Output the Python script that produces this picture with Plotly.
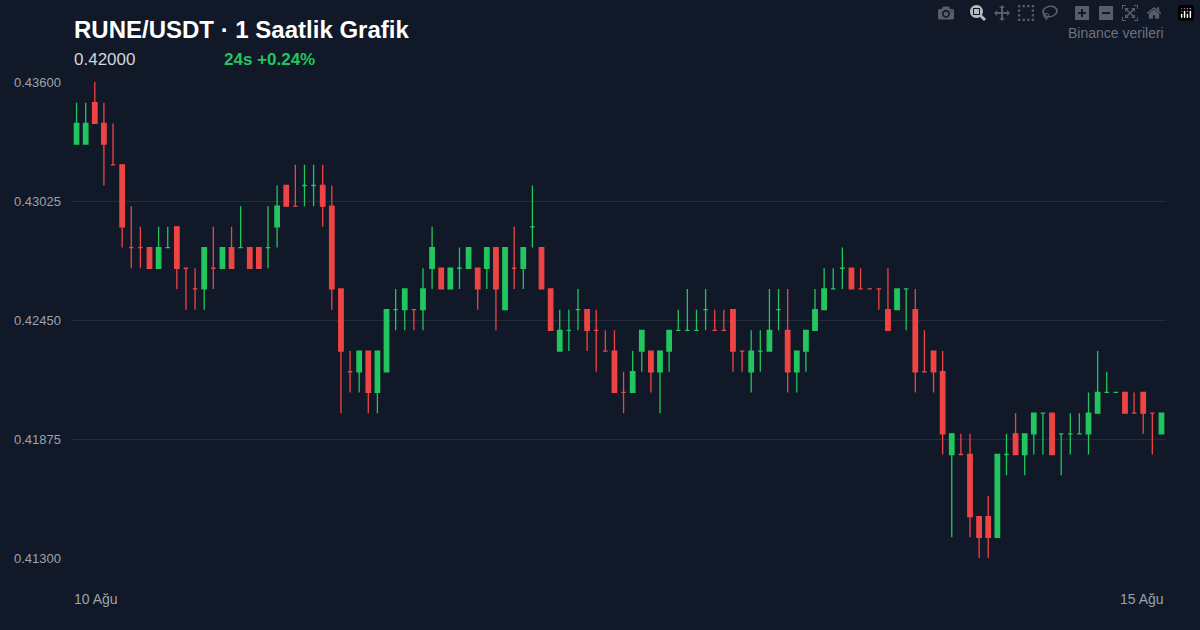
import plotly.graph_objects as go

# OHLC in units of 0.001 above 0.413
opens = [20, 20, 22, 21, 19, 19, 15, 15, 15, 14, 15, 16, 14, 13, 13, 14, 14, 15, 15, 15,
         15, 15, 16, 18, 17, 18, 18, 18, 17, 13, 9, 9, 10, 8, 9, 12, 12, 12, 12, 14,
         14, 13, 14, 14, 14, 14, 15, 12, 14, 14, 16, 15, 13, 10, 11, 12, 12, 11, 10, 10,
         8, 8, 10, 10, 9, 10, 11, 11, 11, 12, 11, 11, 12, 10, 9, 10, 10, 12, 11, 9,
         10, 11, 12, 13, 14, 14, 13, 13, 13, 12, 12, 13, 12, 9, 10, 9, 5, 5, 5, 2,
         2, 1, 5, 6, 5, 6, 7, 7, 6, 6, 6, 6, 7, 8, 8, 8, 7, 8, 7, 6]
closes = [21, 21, 21, 20, 19, 16, 15, 15, 14, 15, 15, 14, 14, 13, 15, 14, 15, 14, 15, 14,
          14, 15, 17, 17, 17, 18, 18, 17, 13, 10, 9, 10, 8, 10, 12, 12, 13, 12, 13, 15,
          13, 14, 14, 15, 13, 15, 13, 15, 14, 15, 16, 13, 11, 11, 11, 12, 11, 11, 10, 8,
          8, 9, 11, 9, 10, 11, 11, 11, 11, 12, 11, 11, 10, 10, 10, 10, 11, 12, 9, 10,
          11, 12, 13, 13, 14, 13, 13, 13, 13, 11, 13, 13, 9, 9, 9, 6, 6, 5, 2, 1,
          1, 5, 5, 5, 6, 7, 7, 5, 6, 6, 6, 7, 8, 8, 8, 7, 7, 7, 7, 7]
highs = [22, 22, 23, 22, 21, 19, 17, 16, 15, 16, 16, 16, 14, 14, 15, 16, 15, 16, 17, 15,
         15, 17, 18, 18, 19, 19, 19, 19, 18, 13, 10, 10, 10, 10, 12, 13, 13, 12, 14, 16,
         14, 14, 15, 15, 14, 15, 15, 15, 16, 15, 18, 15, 13, 12, 12, 13, 12, 12, 11, 11,
         9, 10, 11, 10, 10, 11, 12, 13, 12, 13, 12, 12, 12, 10, 11, 11, 13, 13, 13, 10,
         11, 13, 14, 14, 15, 14, 14, 13, 13, 14, 13, 13, 13, 11, 10, 10, 6, 6, 6, 2,
         3, 5, 6, 7, 6, 7, 7, 7, 6, 7, 7, 8, 10, 9, 8, 8, 8, 8, 7, 7]
lows = [20, 20, 21, 18, 19, 15, 14, 14, 14, 14, 15, 13, 12, 12, 12, 13, 14, 14, 15, 14,
        14, 14, 15, 17, 17, 17, 17, 16, 12, 7, 8, 8, 7, 7, 9, 11, 11, 11, 11, 13,
        13, 13, 13, 14, 12, 13, 11, 12, 13, 13, 15, 13, 11, 10, 10, 11, 10, 9, 10, 8,
        7, 8, 9, 8, 7, 9, 11, 11, 11, 11, 11, 11, 9, 9, 8, 9, 10, 11, 8, 8,
        9, 11, 12, 13, 13, 13, 13, 13, 12, 11, 12, 11, 8, 9, 8, 5, 1, 5, 1, 0,
        0, 1, 4, 5, 4, 5, 5, 5, 4, 5, 6, 5, 7, 8, 8, 7, 7, 6, 5, 6]

base = 0.413
step = 0.001
o = [base + v * step for v in opens]
h = [base + v * step for v in highs]
l = [base + v * step for v in lows]
c = [base + v * step for v in closes]
x = list(range(len(o)))

y_ticks = [0.413, 0.41875, 0.4245, 0.43025, 0.436]

BG = '#111827'
GREEN = '#22c55e'
RED = '#ef4444'

fig = go.Figure(go.Candlestick(
    x=x, open=o, high=h, low=l, close=c,
    increasing=dict(line=dict(color=GREEN, width=1.3), fillcolor=GREEN),
    decreasing=dict(line=dict(color=RED, width=1.3), fillcolor=RED),
    whiskerwidth=0,
    showlegend=False,
))

fig.update_layout(
    width=1200, height=630,
    paper_bgcolor=BG, plot_bgcolor=BG,
    margin=dict(l=72, r=34, t=82, b=72),
    font=dict(family='Liberation Sans, Arial, sans-serif', color='#9ca3af', size=13),
    xaxis=dict(range=[-0.5, len(x) - 0.5], showgrid=False, showticklabels=False,
               zeroline=False, rangeslider=dict(visible=False), fixedrange=True),
    yaxis=dict(range=[0.413, 0.436], tickvals=y_ticks, tickformat='.5f',
               gridcolor='#222c3b', gridwidth=1, zeroline=False,
               tickfont=dict(size=13, color='#9ca3af'), ticklabelstandoff=10),
    annotations=[
        dict(text='<b>RUNE/USDT · 1 Saatlik Grafik</b>', x=72, y=30,
             showarrow=False, xanchor='left', yanchor='middle',
             font=dict(size=24, color='#ffffff')),
        dict(text='0.42000', x=72, y=60, showarrow=False, xanchor='left', yanchor='middle',
             font=dict(size=17, color='#d1d5db')),
        dict(text='<b>24s +0.24%</b>', x=222, y=60, showarrow=False, xanchor='left',
             yanchor='middle', font=dict(size=17, color=GREEN)),
        dict(text='Binance verileri', x=1166, y=33, showarrow=False, xanchor='right',
             yanchor='middle', font=dict(size=14, color='#6b7280')),
        dict(text='10 Ağu', x=72, y=599, showarrow=False, xanchor='left', yanchor='middle',
             font=dict(size=14, color='#9ca3af')),
        dict(text='15 Ağu', x=1166, y=599, showarrow=False, xanchor='right', yanchor='middle',
             font=dict(size=14, color='#9ca3af')),
    ],
)

# annotations given in pixel coordinates -> convert to paper fractions
pw, ph = 1200 - 72 - 34, 630 - 82 - 72
for a in fig.layout.annotations:
    a.xref = 'paper'
    a.yref = 'paper'
    a.x = (a.x - 72) / pw
    a.y = (630 - 72 - a.y) / ph

fig.write_html("out.html",
               post_script="document.body.style.margin='0';document.body.style.background='#111827';")
